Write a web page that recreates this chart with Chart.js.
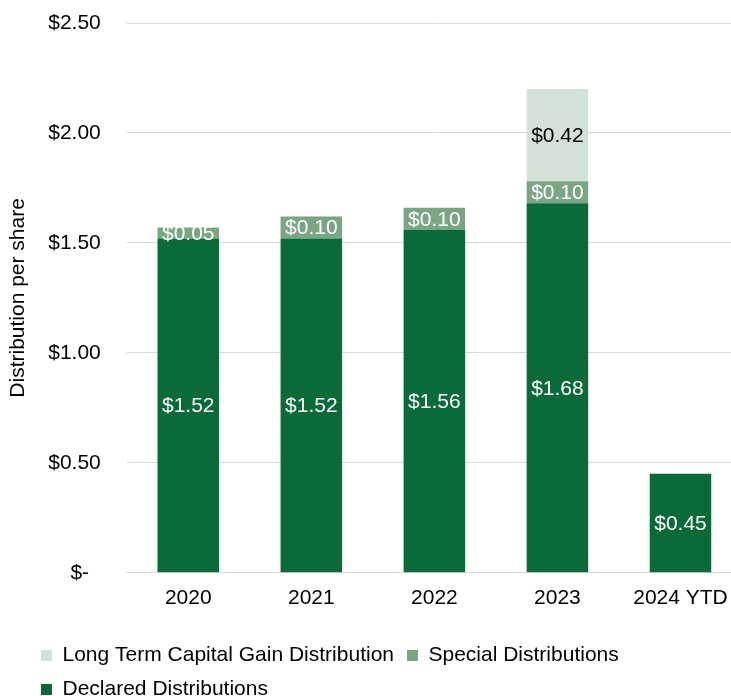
<!DOCTYPE html>
<html>
<head>
<meta charset="utf-8">
<script src="https://cdn.jsdelivr.net/npm/chart.js@4.4.1/dist/chart.umd.min.js"></script>
<style>
  html, body { margin: 0; padding: 0; background: #fff; overflow: hidden; }
  #wrap { width: 742px; height: 710px; }
</style>
</head>
<body>
<div id="wrap"><canvas id="dist-chart"></canvas></div>
<script>
// Distribution per share by year
const years = ['2020', '2021', '2022', '2023', '2024 YTD'];
const declared = [1.52, 1.52, 1.56, 1.68, 0.45];
const special = [0.05, 0.10, 0.10, 0.10, null];
const longTermGain = [null, null, null, 0.42, null];
const yTicks = [0, 0.5, 1.0, 1.5, 2.0, 2.5];

const FONT = 'Liberation Sans, Arial, sans-serif';
const FS = 21;

// Writes each segment's value in the middle of the segment
const segmentLabels = {
  id: 'segmentLabels',
  afterDatasetsDraw(chart) {
    const ctx = chart.ctx;
    ctx.save();
    ctx.font = FS + 'px ' + FONT;
    ctx.textAlign = 'center';
    ctx.textBaseline = 'middle';
    chart.data.datasets.forEach((ds, i) => {
      const meta = chart.getDatasetMeta(i);
      meta.data.forEach((bar, j) => {
        const v = ds.data[j];
        if (v == null) return;
        const p = bar.getProps(['x', 'y', 'base'], true);
        ctx.fillStyle = ds.labelColor;
        ctx.fillText('$' + v.toFixed(2), p.x, (p.y + p.base) / 2 + 1);
      });
    });
    ctx.restore();
  }
};

// Legend rows start a little further in from the left edge
const legendShift = {
  id: 'legendShift',
  afterLayout(chart) {
    chart.legend.left += 22;
  }
};

const ctx = document.getElementById('dist-chart').getContext('2d');
const chart = new Chart(ctx, {
  type: 'bar',
  data: {
    labels: years,
    datasets: [
      {
        label: 'Declared Distributions',
        data: declared,
        backgroundColor: '#0a6a38',
        labelColor: '#ffffff'
      },
      {
        label: 'Special Distributions',
        data: special,
        backgroundColor: '#7aa683',
        labelColor: '#ffffff'
      },
      {
        label: 'Long Term Capital Gain Distribution',
        data: longTermGain,
        backgroundColor: '#d3e2d6',
        labelColor: '#000000'
      }
    ]
  },
  options: {
    responsive: true,
    maintainAspectRatio: false,
    animation: false,
    layout: {
      padding: { top: 23, left: 6, right: 0, bottom: 0 }
    },
    datasets: {
      bar: {
        categoryPercentage: 0.5,
        barPercentage: 1.0
      }
    },
    scales: {
      x: {
        stacked: true,
        grid: { display: false, drawTicks: false },
        border: { display: true, color: '#d9d9d9', width: 1 },
        ticks: {
          color: '#000',
          padding: 13,
          font: { family: FONT, size: FS }
        },
        afterFit(axis) {
          axis.height += 8;
        }
      },
      y: {
        stacked: true,
        min: 0,
        max: 2.5,
        afterBuildTicks(axis) {
          axis.ticks = yTicks.map(v => ({ value: v }));
        },
        afterFit(axis) {
          // tick padding only on the plot side, and no extra top/bottom room
          axis.width -= axis.options.ticks.padding;
          axis.paddingTop = 12;
          axis.paddingBottom = 12;
        },
        grid: { color: '#d9d9d9', lineWidth: 1, drawTicks: false },
        border: { display: false },
        ticks: {
          color: '#000',
          padding: 26,
          font: { family: FONT, size: FS },
          callback: v => v === 0 ? '$-  ' : '$' + v.toFixed(2)
        },
        title: {
          display: true,
          text: 'Distribution per share',
          color: '#000',
          padding: { top: 0, bottom: 17 },
          font: { family: FONT, size: FS }
        }
      }
    },
    plugins: {
      legend: {
        position: 'bottom',
        align: 'start',
        reverse: true,
        labels: {
          color: '#000',
          boxWidth: 11,
          boxHeight: 11,
          padding: 13,
          font: { family: FONT, size: FS }
        }
      },
      tooltip: { enabled: false }
    }
  },
  plugins: [segmentLabels, legendShift]
});
</script>
</body>
</html>
